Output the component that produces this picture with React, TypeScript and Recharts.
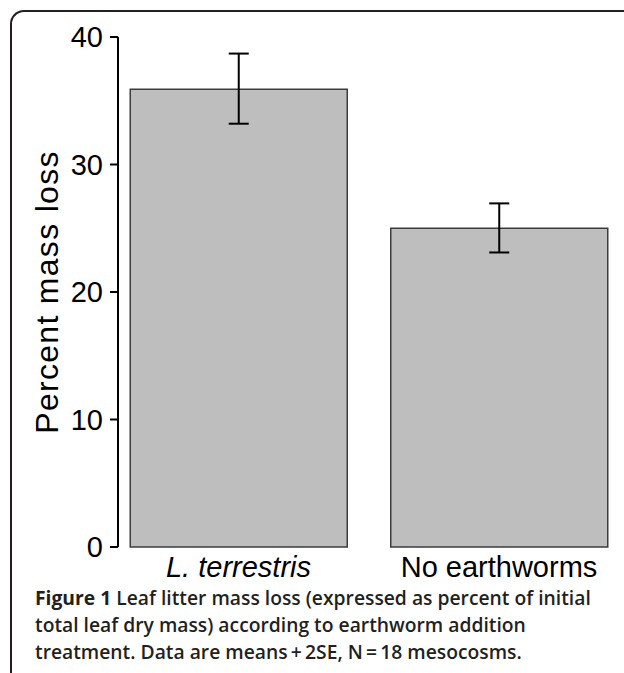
import React from 'react';
import { BarChart, Bar, XAxis, YAxis, ErrorBar } from 'recharts';

const categories = ['L. terrestris', 'No earthworms'];
const meanLoss = [35.9, 25.0];
const upperBound = [38.7, 26.95];
const lowerBound = [33.2, 23.1];
const yTicks = [0, 10, 20, 30, 40];
const yLabel = 'Percent mass loss';
const captionBold = 'Figure 1';
const captionLines = [
  ' Leaf litter mass loss (expressed as percent of initial',
  'total leaf dry mass) according to earthworm addition',
  'treatment. Data are means\u2009+\u20092SE, N\u2009=\u200918 mesocosms.',
];

const data = categories.map((name, i) => ({
  name,
  mean: meanLoss[i],
  err: [meanLoss[i] - lowerBound[i], upperBound[i] - meanLoss[i]],
}));

const FONT = '"Liberation Sans", Arial, Helvetica, sans-serif';

const XTick = (props: any) => {
  const { x, y, payload } = props;
  const italic = payload.index === 0;
  return (
    <text
      x={x}
      y={y}
      dy="0.71em"
      textAnchor="middle"
      fontFamily={FONT}
      fontSize={29}
      fontStyle={italic ? 'italic' : 'normal'}
      fill="#000"
    >
      {payload.value}
    </text>
  );
};

const YLabel = (props: any) => {
  const vb = props.viewBox || {};
  const cx = vb.x + 29;
  const cy = vb.y + vb.height / 2;
  return (
    <text
      x={cx}
      y={cy}
      transform={`rotate(-90, ${cx}, ${cy})`}
      textAnchor="middle"
      dominantBaseline="central"
      fontFamily={FONT}
      fontSize={32}
      letterSpacing={1.3}
      fill="#000"
    >
      {yLabel}
    </text>
  );
};

export default function App() {
  return (
    <div
      style={{
        position: 'absolute',
        left: 0,
        top: 0,
        width: 624,
        height: 673,
        overflow: 'hidden',
        background: '#fff',
      }}
    >
      <div
        style={{
          position: 'absolute',
          left: 10,
          top: 10,
          width: 700,
          height: 700,
          borderTop: '2px solid #231f20',
          borderLeft: '2px solid #231f20',
          borderTopLeftRadius: 14,
          boxSizing: 'border-box',
        }}
      />
      <div style={{ position: 'absolute', left: 0, top: 0 }}>
        <BarChart
          width={624}
          height={600}
          data={data}
          margin={{ top: 37, right: 4, bottom: 13, left: 18 }}
        >
          <XAxis
            dataKey="name"
            axisLine={false}
            tickLine={false}
            tickSize={6}
            tickMargin={3}
            height={40}
            padding={{ left: -9.75, right: -9.25 }}
            tick={<XTick />}
            interval={0}
          />
          <YAxis
            width={100}
            domain={[0, 40]}
            ticks={yTicks}
            interval={0}
            tickSize={8}
            tickMargin={7}
            axisLine={{ stroke: '#000', strokeWidth: 2 }}
            tickLine={{ stroke: '#000', strokeWidth: 2 }}
            tick={{ fontFamily: FONT, fontSize: 29, fill: '#000' }}
            label={<YLabel />}
          />
          <Bar
            dataKey="mean"
            fill="#bebebe"
            stroke="#3c3c3c"
            strokeWidth={1.5}
            barSize={217}
            isAnimationActive={false}
          >
            <ErrorBar dataKey="err" width={10} stroke="#000" strokeWidth={2} isAnimationActive={false} />
          </Bar>
        </BarChart>
      </div>
      <div
        style={{
          position: 'absolute',
          left: 35,
          top: 584,
          fontFamily: '"Open Sans", "Noto Sans", sans-serif',
          fontSize: 19.3,
          lineHeight: '27px',
          color: '#231f20',
          whiteSpace: 'nowrap',
        }}
      >
        <div>
          <span style={{ fontWeight: 700 }}>{captionBold}</span>
          <span style={{ fontWeight: 600 }}>{captionLines[0]}</span>
        </div>
        <div style={{ fontWeight: 600 }}>{captionLines[1]}</div>
        <div style={{ fontWeight: 600 }}>{captionLines[2]}</div>
      </div>
    </div>
  );
}
